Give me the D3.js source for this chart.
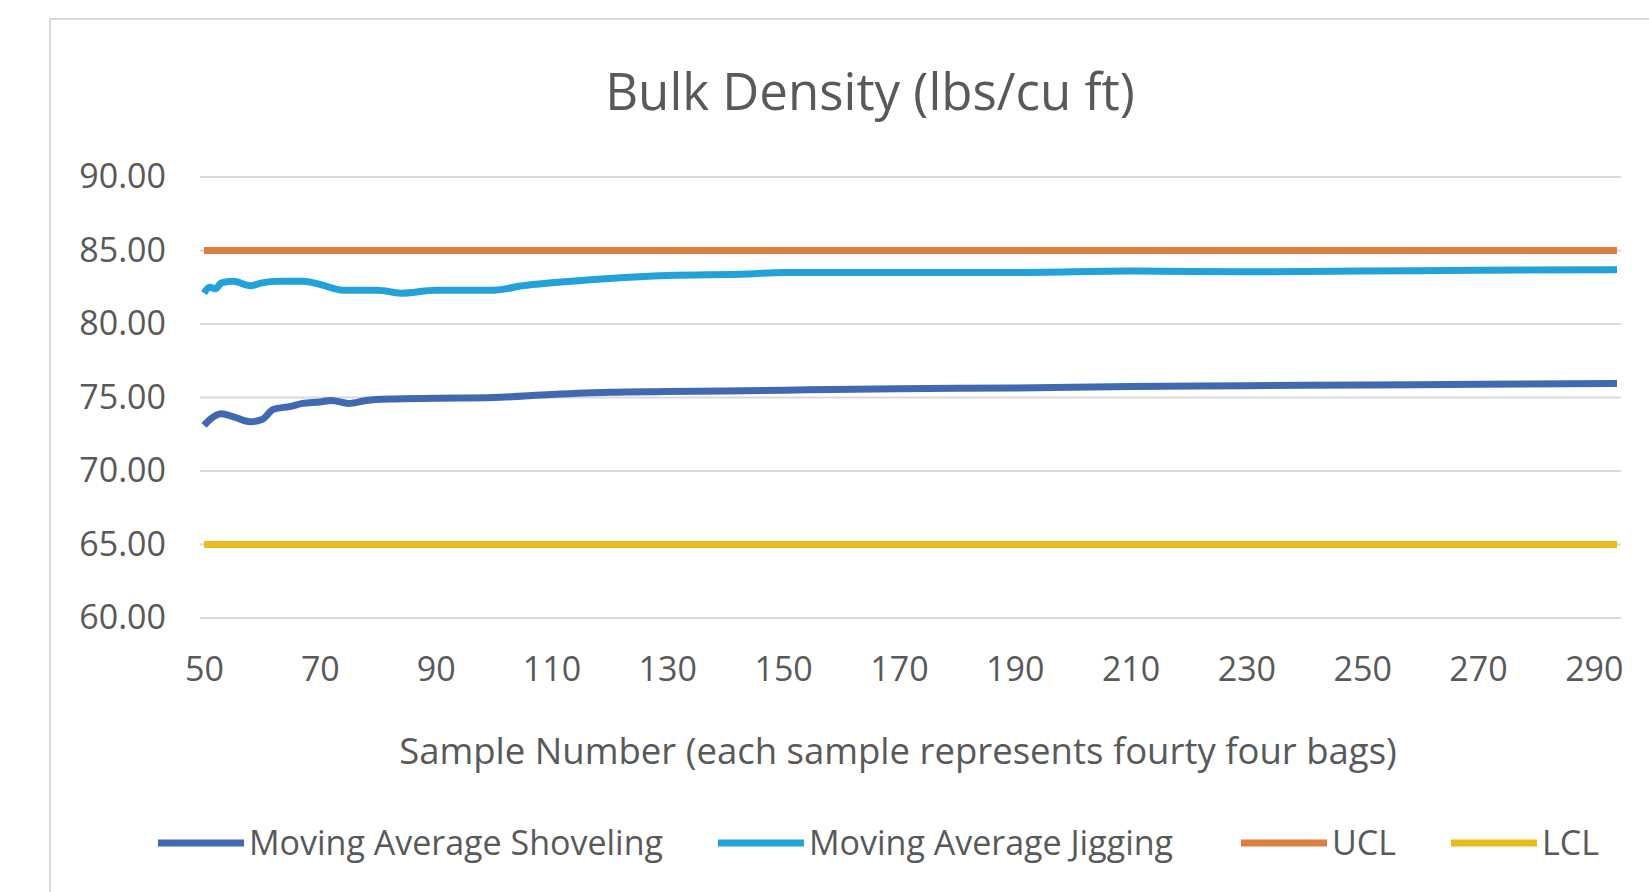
<!DOCTYPE html>
<meta charset="utf-8">
<style>
body { margin: 0; background: #fff; }
text { font-family: "Open Sans", sans-serif; fill: #595959; }
.grid line { stroke: #d9d9d9; stroke-width: 2; }
</style>
<body></body>
<script src="https://d3js.org/d3.v7.min.js"></script>
<script>
// sample numbers and values
var shovSamples = [50, 51, 53, 55, 58, 60, 62, 65, 67, 70, 72, 75, 78, 82, 90, 100, 110, 120, 130, 150, 170, 190, 210, 230, 250, 270, 294];
var shovValues  = [73.1, 73.5, 73.9, 73.7, 73.35, 73.5, 74.2, 74.4, 74.6, 74.7, 74.8, 74.6, 74.8, 74.9, 74.95, 75.0, 75.2, 75.35, 75.4, 75.5, 75.6, 75.65, 75.75, 75.8, 75.85, 75.9, 75.95];

var jigSamples = [50, 51, 52, 53, 55, 58, 60, 63, 67, 70, 74, 80, 84, 90, 100, 105, 110, 120, 130, 144, 150, 170, 190, 210, 230, 250, 270, 294];
var jigValues  = [82.1, 82.5, 82.4, 82.8, 82.9, 82.6, 82.8, 82.9, 82.9, 82.7, 82.3, 82.3, 82.1, 82.3, 82.3, 82.6, 82.8, 83.1, 83.3, 83.4, 83.5, 83.5, 83.5, 83.6, 83.55, 83.6, 83.65, 83.7];

var limitSamples = [50, 294];
var uclValues = [85, 85];
var lclValues = [65, 65];

var xTicks = [50, 70, 90, 110, 130, 150, 170, 190, 210, 230, 250, 270, 290];
var yTicks = [60, 65, 70, 75, 80, 85, 90];

var seriesNames  = ["Moving Average Shoveling", "Moving Average Jigging", "UCL", "LCL"];
var seriesColors = ["#4169b0", "#22a2d8", "#dd7d3f", "#eabb1e"];

var width = 1649, height = 892;
var svg = d3.select("body").append("svg")
    .attr("width", width)
    .attr("height", height);

// chart frame
svg.append("rect")
    .attr("x", 50).attr("y", 19)
    .attr("width", 1620).attr("height", 900)
    .attr("fill", "#fff")
    .attr("stroke", "#d9d9d9")
    .attr("stroke-width", 2);

var x = d3.scaleLinear().domain([50, 294]).range([204, 1617]);
var y = d3.scaleLinear().domain([60, 90]).range([618, 177]);

// gridlines
svg.append("g").attr("class", "grid")
  .selectAll("line").data(yTicks).enter().append("line")
    .attr("x1", 200).attr("x2", 1621)
    .attr("y1", function(d) { return y(d); })
    .attr("y2", function(d) { return y(d); });

// y tick labels
var yAxis = d3.axisLeft(y).tickValues(yTicks).tickSize(0).tickPadding(0)
    .tickFormat(d3.format(".2f"));
var yg = svg.append("g").attr("transform", "translate(166,0)").call(yAxis);
yg.select(".domain").remove();
yg.selectAll("text").style("font-size", "34px").attr("fill", "#595959");

// x tick labels
var xAxis = d3.axisBottom(x).tickValues(xTicks).tickSize(0).tickPadding(0);
var xg = svg.append("g").attr("transform", "translate(0,657)").call(xAxis);
xg.select(".domain").remove();
xg.selectAll("text").style("font-size", "34px").attr("fill", "#595959");

var line = d3.line()
    .x(function(d) { return x(d[0]); })
    .y(function(d) { return y(d[1]); })
    .curve(d3.curveMonotoneX);

var series = [
  d3.zip(shovSamples, shovValues),
  d3.zip(jigSamples, jigValues),
  d3.zip(limitSamples, uclValues),
  d3.zip(limitSamples, lclValues)
];
var drawOrder = [2, 3, 0, 1];
drawOrder.forEach(function(i) {
  svg.append("path")
      .datum(series[i])
      .attr("fill", "none")
      .attr("stroke", seriesColors[i])
      .attr("stroke-width", 7)
      .attr("stroke-linejoin", "round")
      .attr("d", line);
});

// title
svg.append("text")
    .attr("x", 870).attr("y", 110)
    .attr("text-anchor", "middle")
    .style("font-size", "51px")
    .text("Bulk Density (lbs/cu ft)");

// x axis title
svg.append("text")
    .attr("x", 898).attr("y", 764)
    .attr("text-anchor", "middle")
    .style("font-size", "36.5px")
    .text("Sample Number (each sample represents fourty four bags)");

// legend
var legendX = [158, 718, 1241, 1451];
var lg = svg.append("g").attr("transform", "translate(0,843)");
seriesNames.forEach(function(name, i) {
  lg.append("line")
      .attr("x1", legendX[i]).attr("x2", legendX[i] + 86)
      .attr("y1", 0).attr("y2", 0)
      .attr("stroke", seriesColors[i])
      .attr("stroke-width", 7);
  lg.append("text")
      .attr("x", legendX[i] + 91).attr("y", 12)
      .style("font-size", "34px")
      .text(name);
});
</script>
